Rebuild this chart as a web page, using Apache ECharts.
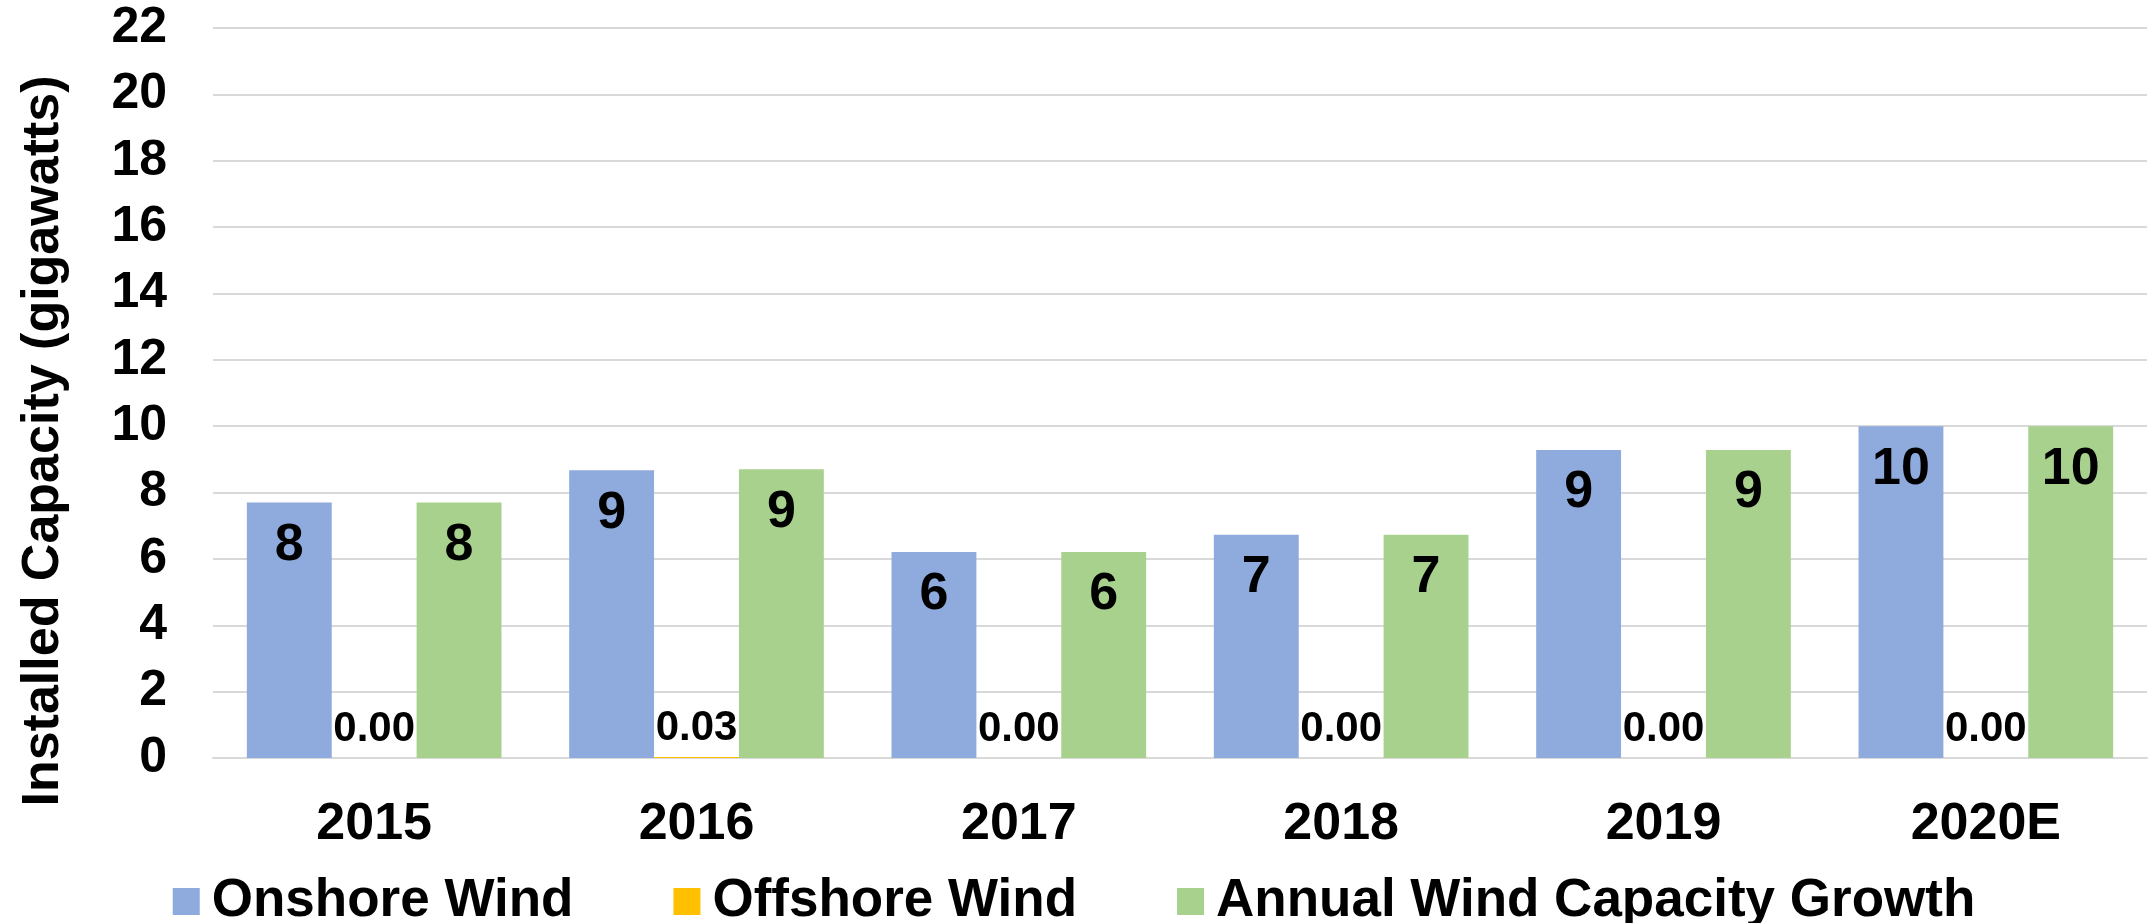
<!DOCTYPE html>
<html>
<head>
<meta charset="utf-8">
<script src="https://cdn.jsdelivr.net/npm/echarts@6/dist/echarts.min.js"></script>
<style>
html,body{margin:0;padding:0;background:#fff;}
#chart{width:2148px;height:923px;}
</style>
</head>
<body>
<div id="chart"></div>
<script>
var categories = ['2015', '2016', '2017', '2018', '2019', '2020E'];
var onshoreWind = [7.70, 8.67, 6.21, 6.73, 9.28, 10.0];
var offshoreWind = [0.00, 0.03, 0.00, 0.00, 0.00, 0.00];
var annualGrowth = [7.70, 8.70, 6.21, 6.73, 9.28, 10.0];
var yTicks = { min: 0, max: 22, interval: 2 };
var seriesNames = ['Onshore Wind', 'Offshore Wind', 'Annual Wind Capacity Growth'];
var yAxisTitle = 'Installed Capacity (gigawatts)';

var FONT = 'Liberation Sans, Arial, sans-serif';
var chart = echarts.init(document.getElementById('chart'), null, {renderer: 'canvas'});

var bigLabel = {
  show: true,
  position: 'insideTop',
  distance: 17,
  color: '#000',
  fontFamily: FONT,
  fontWeight: 'bold',
  fontSize: 52,
  formatter: function (p) { return Math.round(p.value).toString(); }
};

chart.setOption({
  animation: false,
  backgroundColor: '#ffffff',
  grid: { left: 213, right: 1, top: 28, bottom: 165, containLabel: false },
  legend: {
    data: seriesNames,
    left: 'center',
    top: 870,
    itemWidth: 27,
    itemHeight: 27,
    itemGap: 100,
    icon: 'rect',
    textStyle: { fontFamily: FONT, fontWeight: 'bold', fontSize: 53, color: '#000', padding: [0, 0, 0, 7] }
  },
  xAxis: {
    type: 'category',
    data: categories,
    axisLine: { show: true, lineStyle: { color: '#d9d9d9', width: 2 } },
    axisTick: { show: false },
    axisLabel: { margin: 41, color: '#000', fontFamily: FONT, fontWeight: 'bold', fontSize: 52 }
  },
  yAxis: {
    type: 'value',
    min: yTicks.min,
    max: yTicks.max,
    interval: yTicks.interval,
    name: yAxisTitle,
    nameLocation: 'middle',
    nameGap: 143,
    nameRotate: 90,
    nameTextStyle: { fontFamily: FONT, fontWeight: 'bold', fontSize: 52, color: '#000', padding: [0, 96, 0, 0] },
    axisLine: { show: false },
    axisTick: { show: false },
    axisLabel: { margin: 46, color: '#000', fontFamily: FONT, fontWeight: 'bold', fontSize: 50 },
    splitLine: { lineStyle: { color: '#d9d9d9', width: 2 } }
  },
  series: [
    {
      name: seriesNames[0],
      type: 'bar',
      data: onshoreWind,
      barGap: '0%',
      barCategoryGap: '21%',
      itemStyle: { color: '#8faadc' },
      label: bigLabel
    },
    {
      name: seriesNames[1],
      type: 'bar',
      data: offshoreWind,
      barGap: '0%',
      barCategoryGap: '21%',
      itemStyle: { color: '#ffc000' },
      label: {
        show: true,
        position: 'top',
        distance: 8,
        color: '#000',
        fontFamily: FONT,
        fontWeight: 'bold',
        fontSize: 42,
        formatter: function (p) { return p.value.toFixed(2); }
      }
    },
    {
      name: seriesNames[2],
      type: 'bar',
      data: annualGrowth,
      barGap: '0%',
      barCategoryGap: '21%',
      itemStyle: { color: '#a9d18e' },
      label: bigLabel
    }
  ]
});
</script>
</body>
</html>
